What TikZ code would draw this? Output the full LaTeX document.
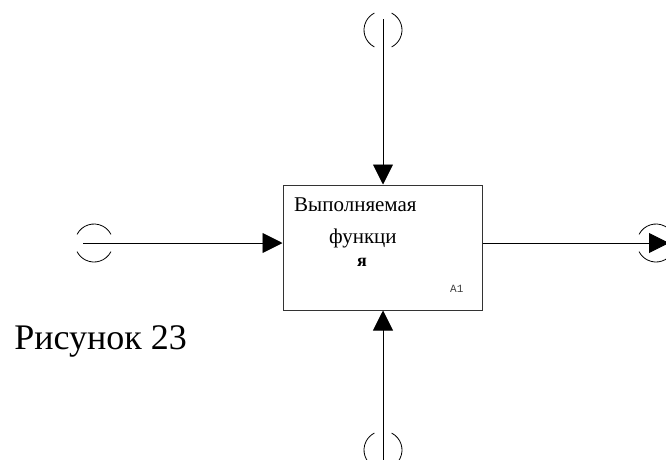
\documentclass[tikz,border=0pt]{standalone}
\usepackage{fontspec}
\setmainfont{Liberation Serif}
\setmonofont{Liberation Mono}
\usetikzlibrary{arrows.meta,calc}
\tikzset{
  conn/.style={line width=0.9pt, draw=black},
  arr/.style={conn, -{Triangle[length=20pt,width=20pt]}},
  tunnel/.style={line width=0.8pt, draw=black},
  lbl/.style={inner sep=0pt, anchor=base west},
  fbox/.style={draw=black!80, line width=1pt, minimum width=199pt, minimum height=125pt, inner sep=0pt}
}
\begin{document}
\begin{tikzpicture}[x=1pt,y=-1pt]
\useasboundingbox (0,0) rectangle (666,459);
\fill[white] (0,0) rectangle (666,459);
% box
\node[fbox] (box) at (382.5,247.5) {};
\node[lbl] (t1) at (294,211) {\fontsize{21}{24}\selectfont Выполняемая};
\node[lbl] (t2) at (329,243) {\fontsize{21}{24}\selectfont функци};
\node[lbl] (t3) at (357,266) {\fontsize{18}{20}\selectfont\bfseries я};
\node[lbl, text=black!75] (t4) at (450,292) {\fontsize{11}{12}\selectfont\ttfamily A1};
\node[inner sep=0pt, anchor=base east] (cap) at (187,349) {\fontsize{36}{40}\selectfont Рисунок 23};
% endpoints
\coordinate (top) at (383,19);
\coordinate (bot) at (383,462);
\coordinate (lin) at (83,243);
\coordinate (rout) at (669,243);
% connectors
\draw[arr] (top) -- (top |- box.north);
\draw[arr] (bot) -- (bot |- box.south);
\draw[arr] (lin) -- (lin -| box.west);
\draw[arr] (rout -| box.east) -- (rout);
% tunnels
\coordinate (tc) at (383,30);
\coordinate (bc) at (383,450);
\coordinate (lc) at (94,243);
\coordinate (rc) at (656,243);
\draw[tunnel] (tc) ++(117:19) arc[start angle=117,end angle=243,radius=19];
\draw[tunnel] (tc) ++(-63:19) arc[start angle=-63,end angle=63,radius=19];
\draw[tunnel] (bc) ++(117:19) arc[start angle=117,end angle=243,radius=19];
\draw[tunnel] (bc) ++(-63:19) arc[start angle=-63,end angle=63,radius=19];
\draw[tunnel] (lc) ++(27:19) arc[start angle=27,end angle=153,radius=19];
\draw[tunnel] (lc) ++(207:19) arc[start angle=207,end angle=333,radius=19];
\draw[tunnel] (rc) ++(27:19) arc[start angle=27,end angle=153,radius=19];
\draw[tunnel] (rc) ++(207:19) arc[start angle=207,end angle=333,radius=19];
\end{tikzpicture}
\end{document}
